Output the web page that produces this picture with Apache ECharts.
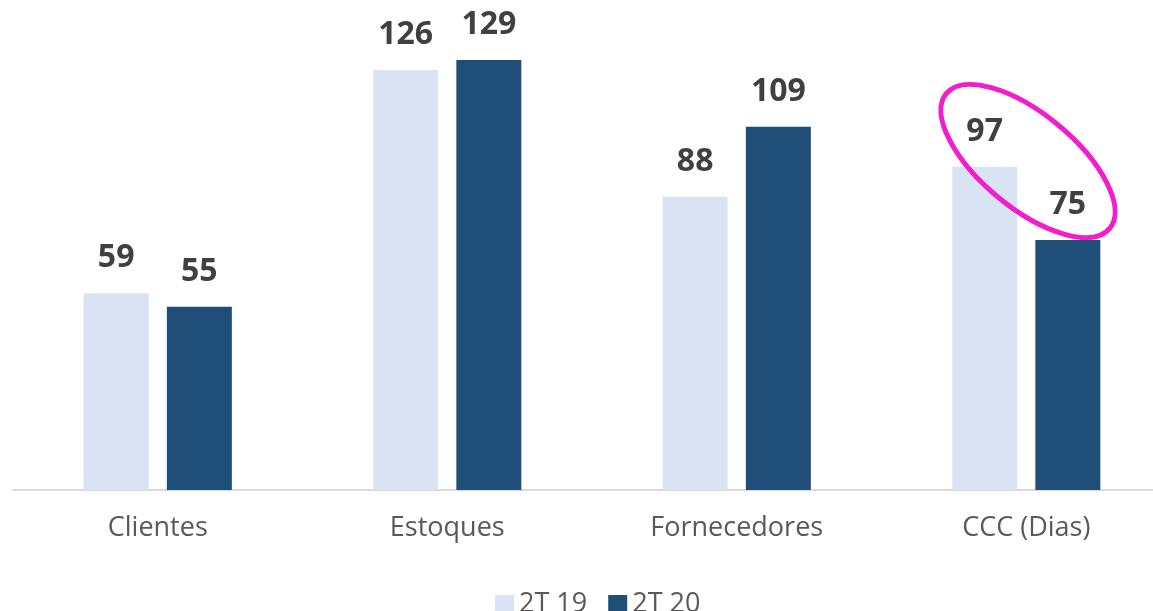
<!DOCTYPE html>
<html>
<head>
<meta charset="utf-8">
<script src="https://cdn.jsdelivr.net/npm/echarts@6/dist/echarts.min.js"></script>
<style>
  html, body { margin: 0; padding: 0; background: #fff; overflow: hidden; }
  #chart { width: 1171px; height: 611px; }
</style>
</head>
<body>
<div id="chart"></div>
<script>
// dados
var categorias = ["Clientes", "Estoques", "Fornecedores", "CCC (Dias)"];
var serie2T19 = [59, 126, 88, 97];
var serie2T20 = [55, 129, 109, 75];
var nomes = ["2T 19", "2T 20"];

var myChart = echarts.init(document.getElementById("chart"));

var labelStyle = {
  show: true,
  position: "top",
  distance: 19,
  color: "#404040",
  fontSize: 32,
  fontWeight: "bold",
  fontFamily: "Open Sans"
};

var option = {
  animation: false,
  grid: { left: 13, right: 0, top: 0, bottom: 121, containLabel: false },
  legend: {
    data: nomes,
    top: 586,
    left: 490,
    itemWidth: 19,
    itemHeight: 19,
    itemGap: 21,
    icon: "rect",
    textStyle: { color: "#595959", fontSize: 27, fontFamily: "Open Sans" }
  },
  xAxis: {
    type: "category",
    data: categorias,
    axisLine: { lineStyle: { color: "#d9d9d9", width: 2 } },
    axisTick: { show: false },
    axisLabel: {
      margin: 25,
      color: "#595959",
      fontSize: 27,
      fontFamily: "Open Sans"
    }
  },
  yAxis: {
    type: "value",
    min: 0,
    max: 147,
    show: false,
    splitLine: { show: false }
  },
  series: [
    {
      name: nomes[0],
      type: "bar",
      data: serie2T19,
      barWidth: 65,
      barGap: "28%",
      itemStyle: { color: "#dae3f3" },
      label: labelStyle
    },
    {
      name: nomes[1],
      type: "bar",
      data: serie2T20,
      barWidth: 65,
      itemStyle: { color: "#1f4e79" },
      label: labelStyle
    }
  ],
  // destaque em volta do CCC
  graphic: [
    {
      type: "ellipse",
      x: 1028,
      y: 161,
      rotation: -39.5 * Math.PI / 180,
      shape: { cx: 0, cy: 0, rx: 106, ry: 47 },
      style: { fill: "none", stroke: "#f01ecb", lineWidth: 5 },
      z: 100
    }
  ]
};

myChart.setOption(option);
</script>
</body>
</html>
